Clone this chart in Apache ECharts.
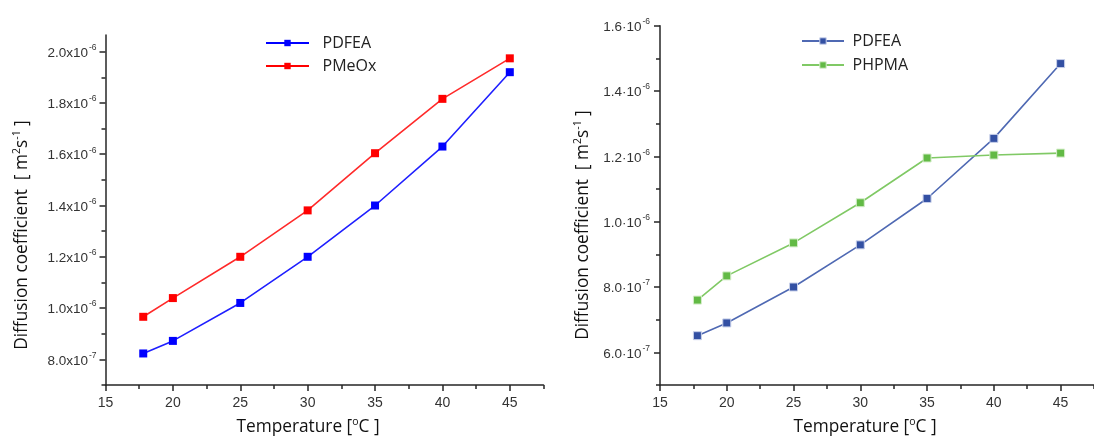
<!DOCTYPE html>
<html>
<head>
<meta charset="utf-8">
<script src="https://cdn.jsdelivr.net/npm/echarts@6/dist/echarts.min.js"></script>
<style>
  html, body { margin: 0; padding: 0; background: #fff; }
  #chart { width: 1094px; height: 437px; }
</style>
</head>
<body>
<div id="chart"></div>
<script>
// Temperatures (°C) at which the diffusion coefficient was measured
const temperatures = [17.8, 20, 25, 30, 35, 40, 45];

// Left panel: diffusion coefficients (m^2 s^-1)
const pdfeaLeft = [8.23e-7, 8.72e-7, 1.02e-6, 1.2e-6, 1.4e-6, 1.63e-6, 1.92e-6];
const pmeox     = [9.66e-7, 1.039e-6, 1.2e-6, 1.381e-6, 1.604e-6, 1.816e-6, 1.974e-6];

// Right panel: diffusion coefficients (m^2 s^-1)
const pdfeaRight = [6.51e-7, 6.9e-7, 8.0e-7, 9.29e-7, 1.071e-6, 1.255e-6, 1.484e-6];
const phpma      = [7.6e-7, 8.34e-7, 9.35e-7, 1.058e-6, 1.195e-6, 1.204e-6, 1.21e-6];

// Tick positions
const xTicks      = [15, 20, 25, 30, 35, 40, 45];
const xMinorTicks = [17.5, 22.5, 27.5, 32.5, 37.5, 42.5, 47.5];
const leftYTicks  = [8e-7, 1.0e-6, 1.2e-6, 1.4e-6, 1.6e-6, 1.8e-6, 2.0e-6];
const leftYMinor  = [7e-7, 9e-7, 1.1e-6, 1.3e-6, 1.5e-6, 1.7e-6, 1.9e-6];
const rightYTicks = [6e-7, 8e-7, 1.0e-6, 1.2e-6, 1.4e-6, 1.6e-6];
const rightYMinor = [5e-7, 7e-7, 9e-7, 1.1e-6, 1.3e-6, 1.5e-6];

const AXIS_COLOR = '#262626';
const LABEL_FONT = 'Liberation Sans, Arial, sans-serif';
const TITLE_FONT = 'Open Sans, sans-serif';

function pairs(xs, ys) { return xs.map((x, i) => [x, ys[i]]); }

// Scientific notation label: mantissa, separator, "10" and a superscript exponent
function sciLabel(sep) {
  return function (v) {
    const exp = Math.floor(Math.log10(v) + 1e-9);
    const mant = (v / Math.pow(10, exp)).toFixed(1);
    return '{m|' + mant + sep + '10}{e|' + exp + '}';
  };
}
const sciRich = {
  m: { fontSize: 13.5, fontFamily: LABEL_FONT, color: '#333', lineHeight: 17, verticalAlign: 'bottom' },
  e: { fontSize: 8.5, fontFamily: LABEL_FONT, color: '#333', lineHeight: 17, verticalAlign: 'top', padding: [0, 0, 0, 1] }
};

// Axis carrying the line and the labels
function labelXAxis(gridIndex) {
  return {
    type: 'value', gridIndex, min: 15, max: 47.5, position: 'bottom',
    axisLine: { show: true, onZero: false, lineStyle: { color: AXIS_COLOR, width: 1.5 } },
    axisTick: { show: false },
    axisLabel: { customValues: xTicks, margin: 11, fontSize: 14, fontFamily: LABEL_FONT, color: '#333' },
    splitLine: { show: false }
  };
}
// Axis drawing only tick marks
function tickXAxis(gridIndex, ticks, len) {
  return {
    type: 'value', gridIndex, min: 15, max: 47.5, position: 'bottom', offset: 0,
    axisLine: { show: false, onZero: false },
    axisTick: { show: true, customValues: ticks, length: len, lineStyle: { color: AXIS_COLOR, width: 1.5 } },
    axisLabel: { show: false },
    splitLine: { show: false }
  };
}
function labelYAxis(gridIndex, min, max, ticks, sep, margin) {
  return {
    type: 'value', gridIndex, min, max, position: 'left',
    axisLine: { show: true, onZero: false, lineStyle: { color: AXIS_COLOR, width: 1.5 } },
    axisTick: { show: false },
    axisLabel: { customValues: ticks, margin, formatter: sciLabel(sep), rich: sciRich },
    splitLine: { show: false }
  };
}
function tickYAxis(gridIndex, min, max, ticks, len) {
  return {
    type: 'value', gridIndex, min, max, position: 'left', offset: 0,
    axisLine: { show: false, onZero: false },
    axisTick: { show: true, customValues: ticks, length: len, lineStyle: { color: AXIS_COLOR, width: 1.5 } },
    axisLabel: { show: false },
    splitLine: { show: false }
  };
}
function lineSeries(name, xi, yi, data, lineColor, markColor, borderColor) {
  return {
    name, type: 'line', xAxisIndex: xi, yAxisIndex: yi, data,
    symbol: 'rect', symbolSize: 8, showSymbol: true,
    lineStyle: { color: lineColor, width: 1.6 },
    itemStyle: { color: markColor, borderColor: borderColor || markColor, borderWidth: borderColor ? 1 : 0 },
    emphasis: { disabled: true },
    z: 3
  };
}

const chart = echarts.init(document.getElementById('chart'), null, { renderer: 'canvas' });

const titleRich = {
  s: { fontSize: 10.5, fontFamily: TITLE_FONT, fill: '#111', verticalAlign: 'top', lineHeight: 21 },
  t: { fontSize: 17.3, fontFamily: TITLE_FONT, fill: '#111', lineHeight: 21 }
};

chart.setOption({
  animation: false,
  backgroundColor: '#fff',
  grid: [
    { left: 105.5, top: 35, width: 438, height: 350, containLabel: false },
    { left: 660, top: 25.7, width: 440, height: 359.3, containLabel: false }
  ],
  xAxis: [
    labelXAxis(0), tickXAxis(0, xTicks, 6), tickXAxis(0, xMinorTicks, 4),
    labelXAxis(1), tickXAxis(1, xTicks, 6), tickXAxis(1, xMinorTicks, 4)
  ],
  yAxis: [
    labelYAxis(0, 7e-7, 2.065e-6, leftYTicks, 'x', 9),
    tickYAxis(0, 7e-7, 2.065e-6, leftYTicks, 6),
    tickYAxis(0, 7e-7, 2.065e-6, leftYMinor, 4),
    labelYAxis(1, 5e-7, 1.6e-6, rightYTicks, '·', 10),
    tickYAxis(1, 5e-7, 1.6e-6, rightYTicks, 6),
    tickYAxis(1, 5e-7, 1.6e-6, rightYMinor, 4)
  ],
  legend: [
    {
      orient: 'vertical', left: 260, top: 30, padding: 5, itemWidth: 43, itemHeight: 8, itemGap: 7,
      textStyle: { fontSize: 16, fontFamily: TITLE_FONT, color: '#222', padding: [0, 0, 0, 8.5] },
      selectedMode: false,
      data: [
        { name: 'PDFEA', itemStyle: { color: '#0000ff' }, lineStyle: { color: '#0000ff' } },
        { name: 'PMeOx', itemStyle: { color: '#ff0000' }, lineStyle: { color: '#ff0000' } }
      ]
    },
    {
      orient: 'vertical', left: 796, top: 28, padding: 5, itemWidth: 42, itemHeight: 8, itemGap: 8,
      textStyle: { fontSize: 16, fontFamily: TITLE_FONT, color: '#222', padding: [0, 0, 0, 3.5] },
      selectedMode: false,
      data: [
        { name: 'PDFEA', itemStyle: { color: '#3350a3', borderColor: '#c8d0ea', borderWidth: 1 }, lineStyle: { color: '#4f69b3' } },
        { name: 'PHPMA', itemStyle: { color: '#62ba45', borderColor: '#d6eecb', borderWidth: 1 }, lineStyle: { color: '#80c965' } }
      ]
    }
  ],
  series: [
    lineSeries('PDFEA', 0, 0, pairs(temperatures, pdfeaLeft), '#1f1fff', '#0000ff'),
    lineSeries('PMeOx', 0, 0, pairs(temperatures, pmeox), '#ff2a2a', '#ff0000'),
    lineSeries('PDFEA', 3, 3, pairs(temperatures, pdfeaRight), '#4f69b3', '#3350a3', '#c8d0ea'),
    lineSeries('PHPMA', 3, 3, pairs(temperatures, phpma), '#80c965', '#62ba45', '#d6eecb')
  ],
  graphic: [
    {
      type: 'text', x: 22, y: 235, rotation: Math.PI / 2,
      style: { text: '{t|Diffusion coefficient  [ m}{s|2}{t|s}{s|-1}{t| ]}', rich: titleRich, align: 'center', verticalAlign: 'middle' }
    },
    {
      type: 'text', x: 583, y: 225, rotation: Math.PI / 2,
      style: { text: '{t|Diffusion coefficient  [ m}{s|2}{t|s}{s|-1}{t| ]}', rich: titleRich, align: 'center', verticalAlign: 'middle' }
    },
    {
      type: 'text', x: 308, y: 427,
      style: { text: '{t|Temperature [}{s|o}{t|C ]}', rich: titleRich, align: 'center', verticalAlign: 'middle' }
    },
    {
      type: 'text', x: 865, y: 427,
      style: { text: '{t|Temperature [}{s|o}{t|C ]}', rich: titleRich, align: 'center', verticalAlign: 'middle' }
    }
  ]
});
</script>
</body>
</html>
